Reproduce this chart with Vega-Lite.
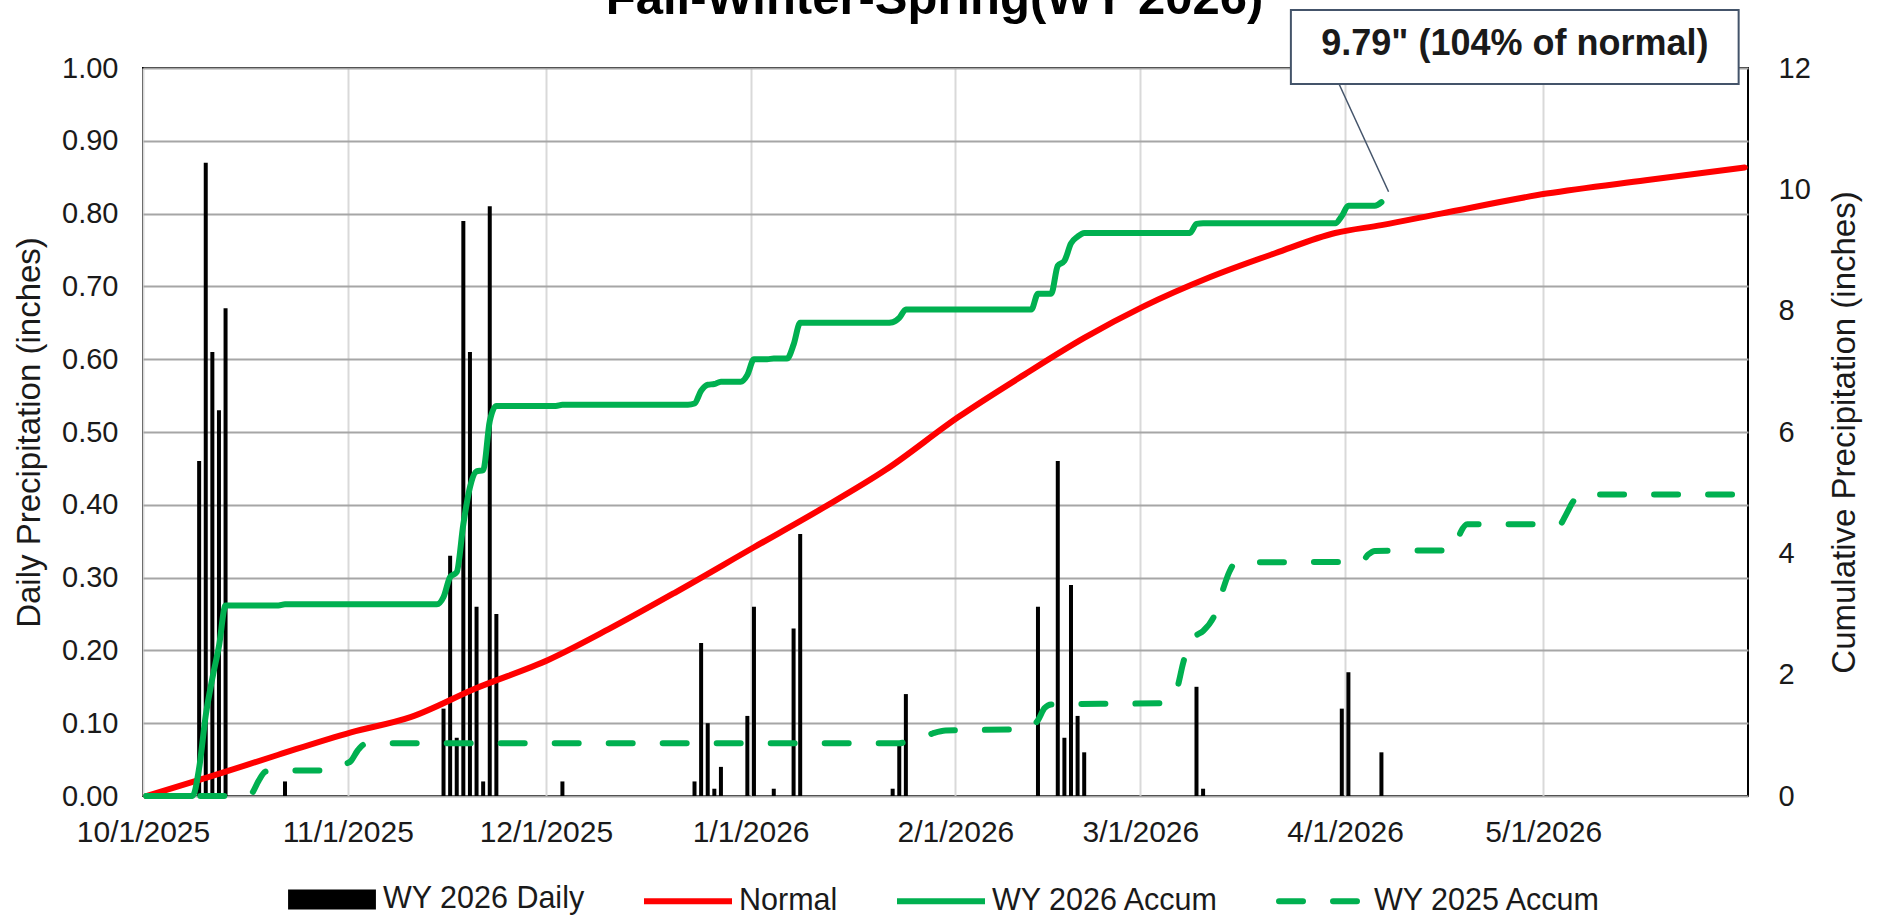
{
  "$schema": "https://vega.github.io/schema/vega-lite/v6.json",
  "width": 1605,
  "height": 728,
  "autosize": {"type": "none"},
  "padding": {"left": 143, "top": 68, "right": 135, "bottom": 119},
  "background": "white",
  "config": {
    "font": "Liberation Sans",
    "view": {"stroke": "#000000", "strokeWidth": 2},
    "axis": {"labelFont": "Liberation Sans", "titleFont": "Liberation Sans", "labelColor": "#1a1a1a", "titleColor": "#1a1a1a", "ticks": false, "domain": false, "titleFontWeight": "normal"}
  },
  "title": {"text": "Fall-Winter-Spring(WY 2026)", "font": "Liberation Sans", "fontSize": 49, "fontWeight": "bold", "color": "#000000", "anchor": "middle", "frame": "group", "offset": -37, "baseline": "alphabetic", "dy": 17, "dx": -11},
  "datasets": {
    "daily": [
      {"date": "2025-10-09", "precip": 0.46}, {"date": "2025-10-10", "precip": 0.87}, {"date": "2025-10-11", "precip": 0.61},
      {"date": "2025-10-12", "precip": 0.53}, {"date": "2025-10-13", "precip": 0.67}, {"date": "2025-10-22", "precip": 0.02},
      {"date": "2025-11-15", "precip": 0.12}, {"date": "2025-11-16", "precip": 0.33}, {"date": "2025-11-17", "precip": 0.08},
      {"date": "2025-11-18", "precip": 0.79}, {"date": "2025-11-19", "precip": 0.61}, {"date": "2025-11-20", "precip": 0.26},
      {"date": "2025-11-21", "precip": 0.02}, {"date": "2025-11-22", "precip": 0.81}, {"date": "2025-11-23", "precip": 0.25},
      {"date": "2025-12-03", "precip": 0.02}, {"date": "2025-12-23", "precip": 0.02}, {"date": "2025-12-24", "precip": 0.21},
      {"date": "2025-12-25", "precip": 0.10}, {"date": "2025-12-26", "precip": 0.01}, {"date": "2025-12-27", "precip": 0.04},
      {"date": "2025-12-31", "precip": 0.11}, {"date": "2026-01-01", "precip": 0.26}, {"date": "2026-01-04", "precip": 0.01},
      {"date": "2026-01-07", "precip": 0.23}, {"date": "2026-01-08", "precip": 0.36}, {"date": "2026-01-22", "precip": 0.01},
      {"date": "2026-01-23", "precip": 0.07}, {"date": "2026-01-24", "precip": 0.14}, {"date": "2026-02-13", "precip": 0.26},
      {"date": "2026-02-16", "precip": 0.46}, {"date": "2026-02-17", "precip": 0.08}, {"date": "2026-02-18", "precip": 0.29},
      {"date": "2026-02-19", "precip": 0.11}, {"date": "2026-02-20", "precip": 0.06}, {"date": "2026-03-09", "precip": 0.15},
      {"date": "2026-03-10", "precip": 0.01}, {"date": "2026-03-31", "precip": 0.12}, {"date": "2026-04-01", "precip": 0.17},
      {"date": "2026-04-06", "precip": 0.06}
    ],
    "normal": [
      {"date": "2025-10-01", "inches": 0.00}, {"date": "2025-10-11", "inches": 0.33}, {"date": "2025-10-21", "inches": 0.68},
      {"date": "2025-11-01", "inches": 1.05}, {"date": "2025-11-10", "inches": 1.30}, {"date": "2025-11-20", "inches": 1.78},
      {"date": "2025-12-01", "inches": 2.25}, {"date": "2025-12-10", "inches": 2.75}, {"date": "2025-12-20", "inches": 3.35},
      {"date": "2026-01-01", "inches": 4.10}, {"date": "2026-01-11", "inches": 4.72}, {"date": "2026-01-21", "inches": 5.38},
      {"date": "2026-02-01", "inches": 6.25}, {"date": "2026-02-11", "inches": 6.95}, {"date": "2026-02-20", "inches": 7.55},
      {"date": "2026-03-01", "inches": 8.07}, {"date": "2026-03-11", "inches": 8.55}, {"date": "2026-03-21", "inches": 8.95},
      {"date": "2026-03-30", "inches": 9.28}, {"date": "2026-04-06", "inches": 9.41}, {"date": "2026-04-15", "inches": 9.60},
      {"date": "2026-05-01", "inches": 9.93}, {"date": "2026-05-16", "inches": 10.15}, {"date": "2026-05-31", "inches": 10.36}
    ],
    "wy26": [
      {"date": "2025-10-01", "inches": 0}, {"date": "2025-10-08", "inches": 0}, {"date": "2025-10-09", "inches": 0.46},
      {"date": "2025-10-10", "inches": 1.33}, {"date": "2025-10-11", "inches": 1.94}, {"date": "2025-10-12", "inches": 2.47},
      {"date": "2025-10-13", "inches": 3.14}, {"date": "2025-10-21", "inches": 3.14}, {"date": "2025-10-22", "inches": 3.16},
      {"date": "2025-11-14", "inches": 3.16}, {"date": "2025-11-15", "inches": 3.28}, {"date": "2025-11-16", "inches": 3.61},
      {"date": "2025-11-17", "inches": 3.69}, {"date": "2025-11-18", "inches": 4.48}, {"date": "2025-11-19", "inches": 5.09},
      {"date": "2025-11-20", "inches": 5.35}, {"date": "2025-11-21", "inches": 5.37}, {"date": "2025-11-22", "inches": 6.18},
      {"date": "2025-11-23", "inches": 6.43}, {"date": "2025-12-02", "inches": 6.43}, {"date": "2025-12-03", "inches": 6.45},
      {"date": "2025-12-22", "inches": 6.45}, {"date": "2025-12-23", "inches": 6.47}, {"date": "2025-12-24", "inches": 6.68},
      {"date": "2025-12-25", "inches": 6.78}, {"date": "2025-12-26", "inches": 6.79}, {"date": "2025-12-27", "inches": 6.83},
      {"date": "2025-12-30", "inches": 6.83}, {"date": "2025-12-31", "inches": 6.94}, {"date": "2026-01-01", "inches": 7.20},
      {"date": "2026-01-03", "inches": 7.20}, {"date": "2026-01-04", "inches": 7.21}, {"date": "2026-01-06", "inches": 7.21},
      {"date": "2026-01-07", "inches": 7.44}, {"date": "2026-01-08", "inches": 7.80}, {"date": "2026-01-21", "inches": 7.80},
      {"date": "2026-01-22", "inches": 7.81}, {"date": "2026-01-23", "inches": 7.88}, {"date": "2026-01-24", "inches": 8.02},
      {"date": "2026-02-12", "inches": 8.02}, {"date": "2026-02-13", "inches": 8.28}, {"date": "2026-02-15", "inches": 8.28},
      {"date": "2026-02-16", "inches": 8.74}, {"date": "2026-02-17", "inches": 8.82}, {"date": "2026-02-18", "inches": 9.11},
      {"date": "2026-02-19", "inches": 9.22}, {"date": "2026-02-20", "inches": 9.28}, {"date": "2026-03-08", "inches": 9.28},
      {"date": "2026-03-09", "inches": 9.43}, {"date": "2026-03-10", "inches": 9.44}, {"date": "2026-03-30", "inches": 9.44},
      {"date": "2026-03-31", "inches": 9.56}, {"date": "2026-04-01", "inches": 9.73}, {"date": "2026-04-05", "inches": 9.73},
      {"date": "2026-04-06", "inches": 9.79}
    ],
    "wy25": [
      {"date": "2025-10-01", "inches": 0}, {"date": "2025-10-16", "inches": 0}, {"date": "2025-10-17", "inches": 0.05},
      {"date": "2025-10-18", "inches": 0.25}, {"date": "2025-10-19", "inches": 0.40}, {"date": "2025-10-20", "inches": 0.42},
      {"date": "2025-10-29", "inches": 0.42}, {"date": "2025-10-30", "inches": 0.45}, {"date": "2025-10-31", "inches": 0.52},
      {"date": "2025-11-01", "inches": 0.58}, {"date": "2025-11-02", "inches": 0.75}, {"date": "2025-11-03", "inches": 0.85},
      {"date": "2025-11-05", "inches": 0.87}, {"date": "2026-01-23", "inches": 0.87}, {"date": "2026-01-24", "inches": 0.89},
      {"date": "2026-01-26", "inches": 0.95}, {"date": "2026-01-28", "inches": 1.03}, {"date": "2026-01-30", "inches": 1.08},
      {"date": "2026-02-10", "inches": 1.10}, {"date": "2026-02-12", "inches": 1.14}, {"date": "2026-02-13", "inches": 1.25},
      {"date": "2026-02-14", "inches": 1.45}, {"date": "2026-02-15", "inches": 1.51}, {"date": "2026-03-04", "inches": 1.53},
      {"date": "2026-03-05", "inches": 1.60}, {"date": "2026-03-06", "inches": 1.75}, {"date": "2026-03-07", "inches": 2.20},
      {"date": "2026-03-08", "inches": 2.55}, {"date": "2026-03-09", "inches": 2.65}, {"date": "2026-03-10", "inches": 2.72},
      {"date": "2026-03-12", "inches": 3.05}, {"date": "2026-03-13", "inches": 3.40}, {"date": "2026-03-14", "inches": 3.70},
      {"date": "2026-03-15", "inches": 3.85}, {"date": "2026-04-03", "inches": 3.86}, {"date": "2026-04-04", "inches": 3.98},
      {"date": "2026-04-05", "inches": 4.04}, {"date": "2026-04-17", "inches": 4.05}, {"date": "2026-04-18", "inches": 4.35},
      {"date": "2026-04-19", "inches": 4.48}, {"date": "2026-05-03", "inches": 4.48}, {"date": "2026-05-04", "inches": 4.65},
      {"date": "2026-05-05", "inches": 4.85}, {"date": "2026-05-06", "inches": 4.97}, {"date": "2026-05-31", "inches": 4.97}
    ],
    "note": [
      {"label": "9.79\" (104% of normal)", "boxStart": "2026-03-23T19:00:00Z", "boxEnd": "2026-05-30T14:00:00Z", "boxTop": 12.955, "boxBottom": 11.736,
       "textAt": "2026-04-26T17:00:00Z", "textLevel": 12.39,
       "leaderStart": "2026-03-31T02:00:00Z", "leaderEnd": "2026-04-07T14:00:00Z", "leaderTop": 11.736, "leaderBottom": 9.96}
    ]
  },
  "layer": [
    {
      "data": {"name": "daily"},
      "mark": {"type": "rule", "strokeWidth": 4},
      "encoding": {
        "x": {
          "field": "date", "type": "temporal", "timeUnit": "utcyearmonthdate", "bandPosition": 0.5,
          "scale": {"type": "utc", "domain": [{"year": 2025, "month": 10, "date": 1, "utc": true}, {"year": 2026, "month": 6, "date": 1, "utc": true}]},
          "axis": {
            "title": null, "format": "%-m/%-d/%Y", "labelFontSize": 30, "labelPadding": 21, "labelFlush": false, "labelOverlap": false,
            "grid": true, "gridColor": "#d9d9d9", "gridWidth": 2,
            "values": [
              {"year": 2025, "month": 10, "date": 1, "utc": true}, {"year": 2025, "month": 11, "date": 1, "utc": true},
              {"year": 2025, "month": 12, "date": 1, "utc": true}, {"year": 2026, "month": 1, "date": 1, "utc": true},
              {"year": 2026, "month": 2, "date": 1, "utc": true}, {"year": 2026, "month": 3, "date": 1, "utc": true},
              {"year": 2026, "month": 4, "date": 1, "utc": true}, {"year": 2026, "month": 5, "date": 1, "utc": true}
            ]
          }
        },
        "y": {
          "field": "precip", "type": "quantitative",
          "scale": {"domain": [0, 1], "nice": false},
          "axis": {
            "orient": "left", "values": [0, 0.1, 0.2, 0.3, 0.4, 0.5, 0.6, 0.7, 0.8, 0.9, 1.0], "format": ".2f",
            "grid": true, "gridColor": "#a6a6a6", "gridWidth": 2, "labelFontSize": 29, "labelPadding": 25,
            "title": "Daily Precipitation (inches)", "titleFontSize": 33, "titlePadding": 15
          }
        },
        "y2": {"datum": 0},
        "color": {
          "datum": "WY 2026 Daily", "type": "nominal",
          "scale": {"domain": ["WY 2026 Daily", "Normal", "WY 2026 Accum", "WY 2025 Accum"], "range": ["#000000", "#ff0000", "#00b050", "#00b050"]},
          "legend": {
            "orient": "none", "legendX": 142, "legendY": 784, "direction": "horizontal", "title": null,
            "symbolType": "M-1,0H1", "symbolSize": 7744,
            "symbolStrokeWidth": 6, "labelFontSize": 30.5, "labelFont": "Liberation Sans", "labelColor": "#1a1a1a",
            "columnPadding": 47, "labelOffset": 4, "labelLimit": 0,
            "encode": {
              "symbols": {
                "update": {
                  "shape": {"signal": "datum.value === 'WY 2026 Daily' ? 'M-0.93,-0.16H0.93V0.16H-0.93Z' : 'M-1,0H1'"},
                  "fill": {"signal": "datum.value === 'WY 2026 Daily' ? '#000000' : 'transparent'"},
                  "strokeDash": {"signal": "datum.value === 'WY 2025 Accum' ? [24, 30] : []"},
                  "strokeCap": {"signal": "datum.value === 'WY 2025 Accum' ? 'round' : 'butt'"}
                }
              }
            }
          }
        }
      }
    },
    {
      "layer": [
        {
          "data": {"name": "normal"},
          "mark": {"type": "line", "strokeWidth": 6, "strokeCap": "round", "strokeJoin": "round", "interpolate": "monotone"},
          "encoding": {
            "x": {"field": "date", "type": "temporal", "timeUnit": "utcyearmonthdate", "bandPosition": 0.5},
            "y": {
              "field": "inches", "type": "quantitative", "scale": {"domain": [0, 12], "nice": false},
              "axis": {
                "orient": "right", "values": [0, 2, 4, 6, 8, 10, 12], "format": "d", "grid": false,
                "labelFontSize": 29, "labelPadding": 30, "title": "Cumulative Precipitation (inches)",
                "titleFontSize": 33, "titleAngle": 270, "titlePadding": 51
              }
            },
            "color": {"datum": "Normal", "type": "nominal"}
          }
        },
        {
          "data": {"name": "wy25"},
          "mark": {"type": "line", "strokeWidth": 6, "strokeCap": "round", "strokeJoin": "round", "strokeDash": [24, 30], "interpolate": "monotone"},
          "encoding": {
            "x": {"field": "date", "type": "temporal", "timeUnit": "utcyearmonthdate", "bandPosition": 0.5},
            "y": {"field": "inches", "type": "quantitative"},
            "color": {"datum": "WY 2025 Accum", "type": "nominal"}
          }
        },
        {
          "data": {"name": "wy26"},
          "mark": {"type": "line", "strokeWidth": 6, "strokeCap": "round", "strokeJoin": "round", "interpolate": "monotone"},
          "encoding": {
            "x": {"field": "date", "type": "temporal", "timeUnit": "utcyearmonthdate", "bandPosition": 0.5},
            "y": {"field": "inches", "type": "quantitative"},
            "color": {"datum": "WY 2026 Accum", "type": "nominal"}
          }
        },
        {
          "data": {"name": "note"},
          "mark": {"type": "rect", "fill": "#ffffff", "stroke": "#44546a", "strokeWidth": 2},
          "encoding": {
            "x": {"field": "boxStart", "type": "temporal", "scale": {"type": "utc"}},
            "x2": {"field": "boxEnd"},
            "y": {"field": "boxTop", "type": "quantitative"},
            "y2": {"field": "boxBottom"}
          }
        },
        {
          "data": {"name": "note"},
          "mark": {"type": "rule", "stroke": "#44546a", "strokeWidth": 1.5},
          "encoding": {
            "x": {"field": "leaderStart", "type": "temporal", "scale": {"type": "utc"}},
            "x2": {"field": "leaderEnd"},
            "y": {"field": "leaderTop", "type": "quantitative"},
            "y2": {"field": "leaderBottom"}
          }
        },
        {
          "data": {"name": "note"},
          "mark": {"type": "text", "font": "Liberation Sans", "fontWeight": "bold", "fontSize": 36, "align": "center", "baseline": "middle", "color": "#1a1a1a"},
          "encoding": {
            "x": {"field": "textAt", "type": "temporal", "scale": {"type": "utc"}},
            "y": {"field": "textLevel", "type": "quantitative"},
            "text": {"field": "label"}
          }
        }
      ]
    }
  ],
  "resolve": {"scale": {"y": "independent"}}
}
